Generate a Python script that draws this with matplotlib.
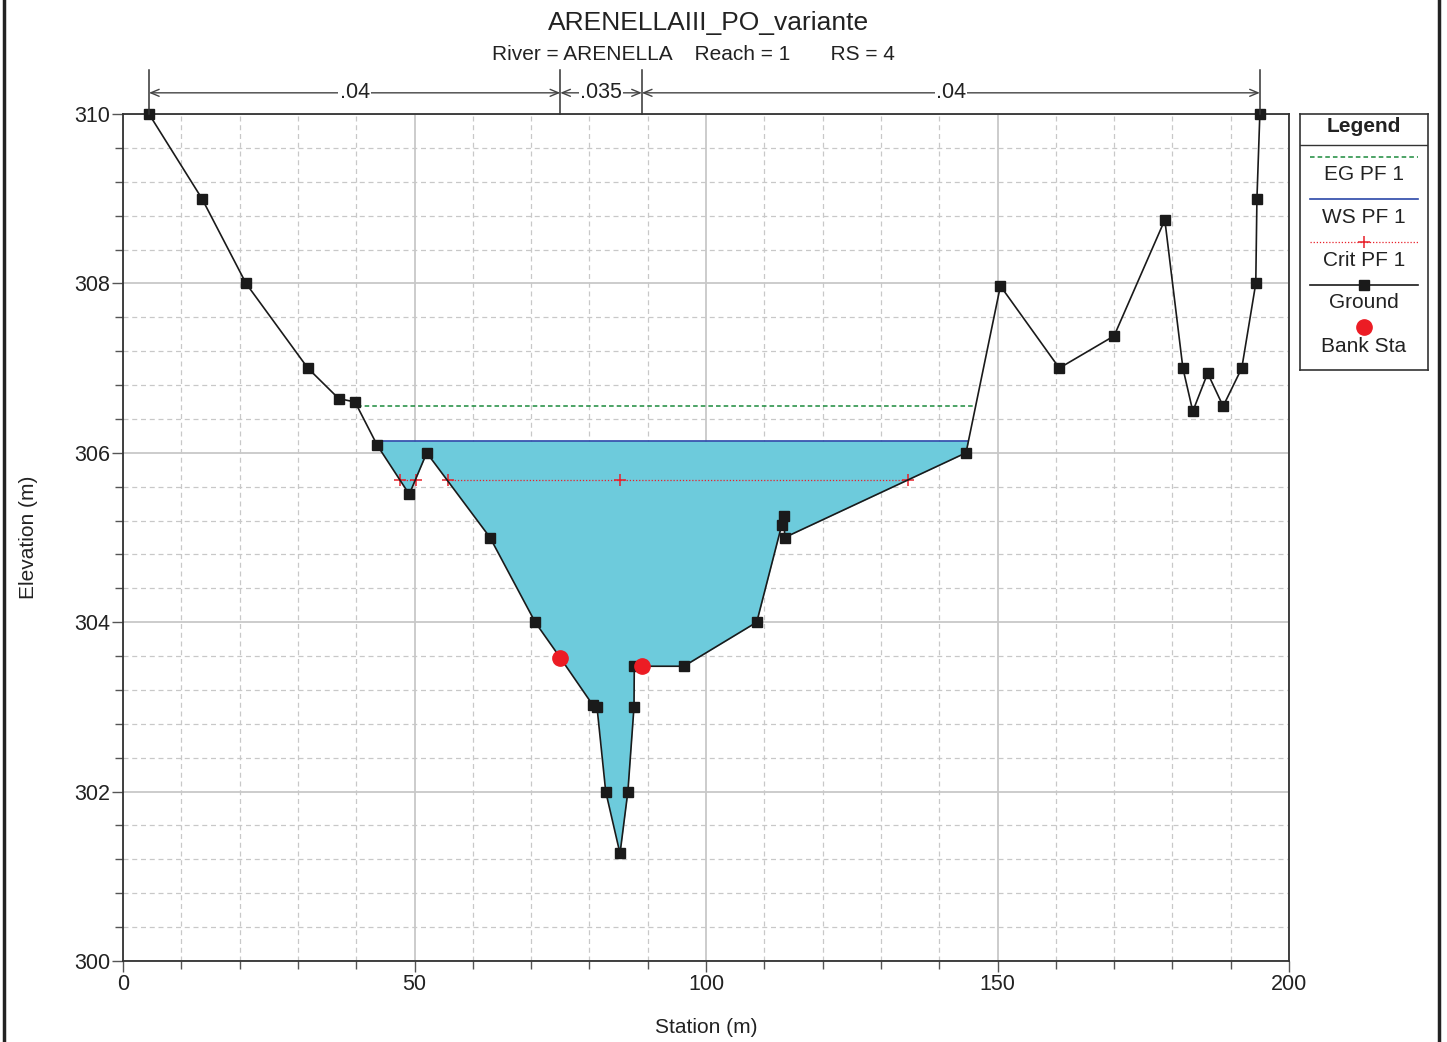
import numpy as np
import matplotlib
matplotlib.use("Agg")
import matplotlib.pyplot as plt
from matplotlib.lines import Line2D
from matplotlib.ticker import MultipleLocator

plt.rcParams['font.family'] = ['Liberation Sans', 'DejaVu Sans']

# Data
ground_sta = [4.46, 13.55, 21.1, 31.7, 37.0, 39.8, 43.6, 49.1, 52.1, 62.95,
              70.7, 75.0, 80.6, 81.3, 82.8, 85.25, 86.6, 87.65, 87.7, 89.0,
              96.2, 108.7, 113.0, 113.4, 113.5, 144.6, 150.5, 160.6, 170.0,
              178.7, 181.8, 183.5, 186.05, 188.7, 191.9, 194.3, 194.5, 195.0]
ground_elev = [310.0, 309.0, 308.0, 307.0, 306.64, 306.6, 306.09, 305.51, 306.0, 305.0,
               304.0, 303.58, 303.02, 303.0, 302.0, 301.27, 302.0, 303.0, 303.48, 303.48,
               303.48, 304.0, 305.15, 305.25, 305.0, 306.0, 307.97, 307.0, 307.38,
               308.75, 307.0, 306.49, 306.94, 306.55, 307.0, 308.0, 309.0, 310.0]
bank_sta = [75.0, 89.0]
bank_elev = [303.58, 303.48]

ws_elev = 306.14
eg_elev = 306.55
crit_elev = 305.68
crit_sta = [47.5, 50.3, 55.7, 85.25, 134.6]

mann_sta = [4.46, 75.0, 89.0, 195.0]
mann_n = ['.04', '.035', '.04']

title = 'ARENELLAIII_PO_variante'
subtitle = 'River = ARENELLA    Reach = 1       RS = 4'


def channel_edges(x, y, level):
    """Stations where the ground crosses a level on each side of the thalweg."""
    imin = int(np.argmin(y))
    out = []
    for i in range(len(x) - 1):
        y0, y1 = y[i] - level, y[i + 1] - level
        if y0 * y1 < 0 or y0 == 0:
            out.append(x[i] + (x[i + 1] - x[i]) * y0 / (y0 - y1) if y0 != y1 else x[i])
    left = max(c for c in out if c < x[imin])
    right = min(c for c in out if c > x[imin])
    return left, right


gx = np.array(ground_sta)
gy = np.array(ground_elev)

fig = plt.figure(figsize=(14.47, 10.42), dpi=100)
ax = fig.add_axes([123 / 1447, 1 - 961 / 1042, (1289 - 123) / 1447, (961 - 114) / 1042])

# water surface fill
wl, wr = channel_edges(ground_sta, ground_elev, ws_elev)
inside = (gx > wl) & (gx < wr)
fx = np.concatenate([[wl], gx[inside], [wr]])
fy = np.concatenate([[ws_elev], gy[inside], [ws_elev]])
ax.fill_between(fx, fy, ws_elev, color='#6dcbdc', lw=0, zorder=2)
ax.plot([wl, wr], [ws_elev, ws_elev], color='#2a47a8', lw=1.2, zorder=3)

# energy grade line
el, er = channel_edges(ground_sta, ground_elev, eg_elev)
ax.plot([el, er], [eg_elev, eg_elev], color='#1b8a3c', lw=1.1,
        ls=(0, (3, 2)), zorder=3)

# critical depth
cx = [crit_sta[0], crit_sta[1], np.nan, crit_sta[2], crit_sta[4]]
ax.plot(cx, [crit_elev] * len(cx), color='#e8202a', lw=0.9, ls=(0, (1, 1.5)), zorder=3)
ax.plot(crit_sta, [crit_elev] * len(crit_sta), ls='none', marker='+', ms=9,
        mew=1.1, color='#e8202a', zorder=4)

# ground
ax.plot(gx, gy, color='#1a1a1a', lw=1.2, zorder=5, clip_on=False)
mask = ~np.isin(gx, bank_sta)
ax.plot(gx[mask], gy[mask], ls='none', marker='s', ms=7, color='#1a1a1a', zorder=6,
        clip_on=False)
ax.plot(bank_sta, bank_elev, ls='none', marker='o', ms=11, color='#ec1c24', zorder=7)

# axes styling
ax.set_xlim(0, 200)
ax.set_ylim(300, 310)
ax.xaxis.set_major_locator(MultipleLocator(50))
ax.xaxis.set_minor_locator(MultipleLocator(10))
ax.yaxis.set_major_locator(MultipleLocator(2))
ax.yaxis.set_minor_locator(MultipleLocator(0.4))
ax.grid(which='major', color='#c8c8c8', lw=1.3, ls='-', zorder=0)
ax.grid(which='minor', color='#c8c8c8', lw=0.9, ls=(0, (4, 3)), zorder=0)
ax.set_axisbelow(True)
ax.tick_params(which='major', direction='out', length=8, width=1, color='#555555',
               labelsize=15.5, labelcolor='#222222', pad=1)
ax.tick_params(which='minor', direction='out', length=6, width=1, color='#555555')
for s in ax.spines.values():
    s.set_color('#333333')
    s.set_linewidth(1.3)
ax.set_xlabel('Station (m)', fontsize=15, color='#222222')
ax.set_ylabel('Elevation (m)', fontsize=15, color='#222222')
ax.xaxis.set_label_coords(0.5, -(1018 - 961) / 847)
ax.yaxis.set_label_coords(-(123 - 38) / 1166, 0.5)

# Manning's n brackets on top
for s in mann_sta:
    ax.plot([s, s], [310, 310.52], color='#333333', lw=1.1, clip_on=False, zorder=8)
ytxt = 310.25
for i, n in enumerate(mann_n):
    a, b = mann_sta[i], mann_sta[i + 1]
    mid = (a + b) / 2
    ax.text(mid, ytxt, n, ha='center', va='center', fontsize=15.5, color='#222222',
            bbox=dict(fc='white', ec='none', pad=1), zorder=10)
    for end in (a, b):
        ax.annotate('', xy=(end, ytxt), xytext=(mid, ytxt), xycoords='data',
                    arrowprops=dict(arrowstyle='->,head_length=0.6,head_width=0.25',
                                    color='#444444', lw=1, shrinkA=0, shrinkB=0),
                    annotation_clip=False, zorder=9)

fig.text(709 / 1447, 1 - 23 / 1042, title, ha='center', va='center', fontsize=19, color='#222222')
fig.text(693 / 1447, 1 - 54 / 1042, subtitle, ha='center', va='center', fontsize=15, color='#222222')

# legend panel
lg = fig.add_axes([1300 / 1447, 1 - 370 / 1042, 128 / 1447, 256 / 1042])
lg.set_xlim(0, 128)
lg.set_ylim(256, 0)
lg.set_xticks([])
lg.set_yticks([])
for s in lg.spines.values():
    s.set_color('#333333')
    s.set_linewidth(1.2)
fs = 15
lg.text(64, 13, 'Legend', ha='center', va='center', fontsize=fs, fontweight='bold', color='#222222')
lg.plot([0, 128], [31, 31], color='#333333', lw=1)
lg.plot([10, 118], [43, 43], color='#1b8a3c', lw=1.1, ls=(0, (3, 2)))
lg.text(64, 61, 'EG PF 1', ha='center', va='center', fontsize=fs, color='#222222')
lg.plot([10, 118], [85, 85], color='#2a47a8', lw=1.2)
lg.text(64, 104, 'WS PF 1', ha='center', va='center', fontsize=fs, color='#222222')
lg.plot([10, 118], [128, 128], color='#e8202a', lw=0.9, ls=(0, (1, 1.5)))
lg.plot([64], [128], marker='+', ms=9, mew=1.1, color='#e8202a')
lg.text(64, 147, 'Crit PF 1', ha='center', va='center', fontsize=fs, color='#222222')
lg.plot([10, 118], [171, 171], color='#1a1a1a', lw=1.2)
lg.plot([64], [171], marker='s', ms=7, color='#1a1a1a')
lg.text(64, 189, 'Ground', ha='center', va='center', fontsize=fs, color='#222222')
lg.plot([64], [213], marker='o', ms=11, color='#ec1c24')
lg.text(64, 232, 'Bank Sta', ha='center', va='center', fontsize=fs, color='#222222')

# outer frame lines
fig.add_artist(Line2D([4 / 1447, 4 / 1447], [0, 1], color='#222222', lw=2.5))
fig.add_artist(Line2D([1439 / 1447, 1439 / 1447], [0, 1], color='#222222', lw=2.5))

fig.savefig('out.png', dpi=100, facecolor='white')
